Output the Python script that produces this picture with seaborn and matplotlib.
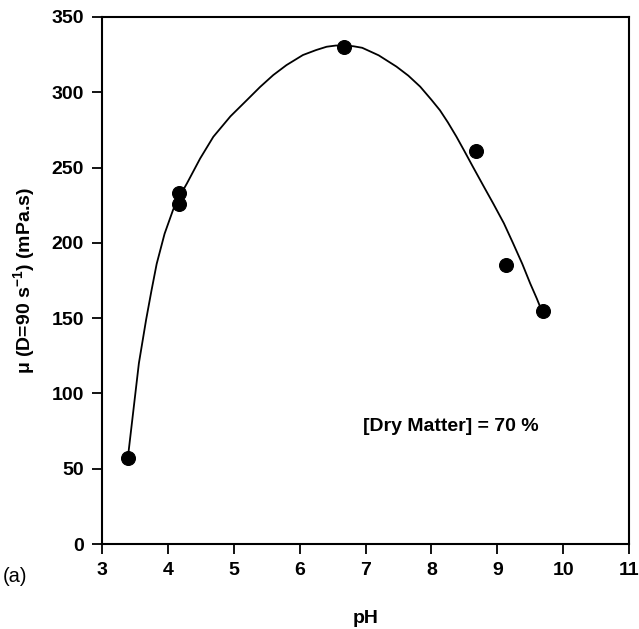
import matplotlib
matplotlib.use("Agg")
import matplotlib.pyplot as plt
import seaborn as sns
import pandas as pd

# measured points
ph_points = [3.40, 4.17, 4.17, 6.68, 8.67, 9.13, 9.69]
mu_points = [57, 233, 226, 330, 261, 185, 155]

# fitted curve
curve_ph = [3.40, 3.48, 3.56, 3.67, 3.75, 3.83, 3.95, 4.08, 4.18, 4.29, 4.49, 4.69, 4.95, 5.20, 5.40, 5.60,
            5.80, 6.05, 6.25, 6.41, 6.55, 6.68, 6.82, 6.95, 7.20, 7.47, 7.65, 7.83, 8.00, 8.13,
            8.25, 8.38, 8.50, 8.63, 8.80, 8.94, 9.10, 9.24, 9.38, 9.50, 9.60, 9.65, 9.70]
curve_mu = [60, 90, 120, 149, 168, 186, 206, 222, 231, 239.5, 256, 270.4, 284, 294.8, 303.5, 311.4,
            318, 324.7, 328, 330.2, 331, 331, 330.5, 329.5, 324.5, 317, 311, 303.7, 295, 288,
            280, 270.5, 261, 250.5, 237, 226, 213, 199.7, 186, 173, 163, 157.6, 155]

xticks = [3, 4, 5, 6, 7, 8, 9, 10, 11]
yticks = [0, 50, 100, 150, 200, 250, 300, 350]

sns.set_theme(style="ticks")
plt.rcParams['font.family'] = ['Liberation Sans', 'DejaVu Sans']
plt.rcParams['text.color'] = 'black'
plt.rcParams['axes.labelcolor'] = 'black'
plt.rcParams['xtick.color'] = 'black'
plt.rcParams['ytick.color'] = 'black'
plt.rcParams['mathtext.fontset'] = 'custom'
plt.rcParams['mathtext.bf'] = 'Liberation Sans:bold'
plt.rcParams['mathtext.rm'] = 'Liberation Sans:bold'

fig = plt.figure(figsize=(6.39, 6.29), dpi=100)
ax = fig.add_axes([0.1596, 0.1351, 0.8248, 0.838])

pts = pd.DataFrame({"pH": ph_points, "mu": mu_points})
crv = pd.DataFrame({"pH": curve_ph, "mu": curve_mu})

sns.lineplot(data=crv, x="pH", y="mu", ax=ax, color="black", linewidth=1.3, sort=False)
sns.scatterplot(data=pts, x="pH", y="mu", ax=ax, color="black", s=100, edgecolor="black", zorder=3)

ax.set_xlim(3, 11)
ax.set_ylim(0, 350)
ax.set_xticks(xticks)
ax.set_yticks(yticks)
ax.set_xticklabels([str(t) for t in xticks], fontsize=14, fontweight="bold")
ax.set_yticklabels([str(t) for t in yticks], fontsize=14, fontweight="bold")
ax.tick_params(direction="out", length=7, width=1.3, color="black", pad=6)
for sp in ax.spines.values():
    sp.set_linewidth(1.5)
    sp.set_color("black")

ax.set_xlabel("pH", fontsize=14, fontweight="bold", labelpad=22)
ax.set_ylabel(r"μ (D=90 s$^{\mathrm{-1}}$) (mPa.s)", fontsize=14, fontweight="bold", labelpad=10)

ax.text(6.96, 78, "[Dry Matter] = 70 %", fontsize=14, fontweight="bold", va="center", ha="left")
fig.text(0.005, 0.083, "(a)", fontsize=14.5, ha="left", va="center")

fig.savefig("out.png", dpi=100)
